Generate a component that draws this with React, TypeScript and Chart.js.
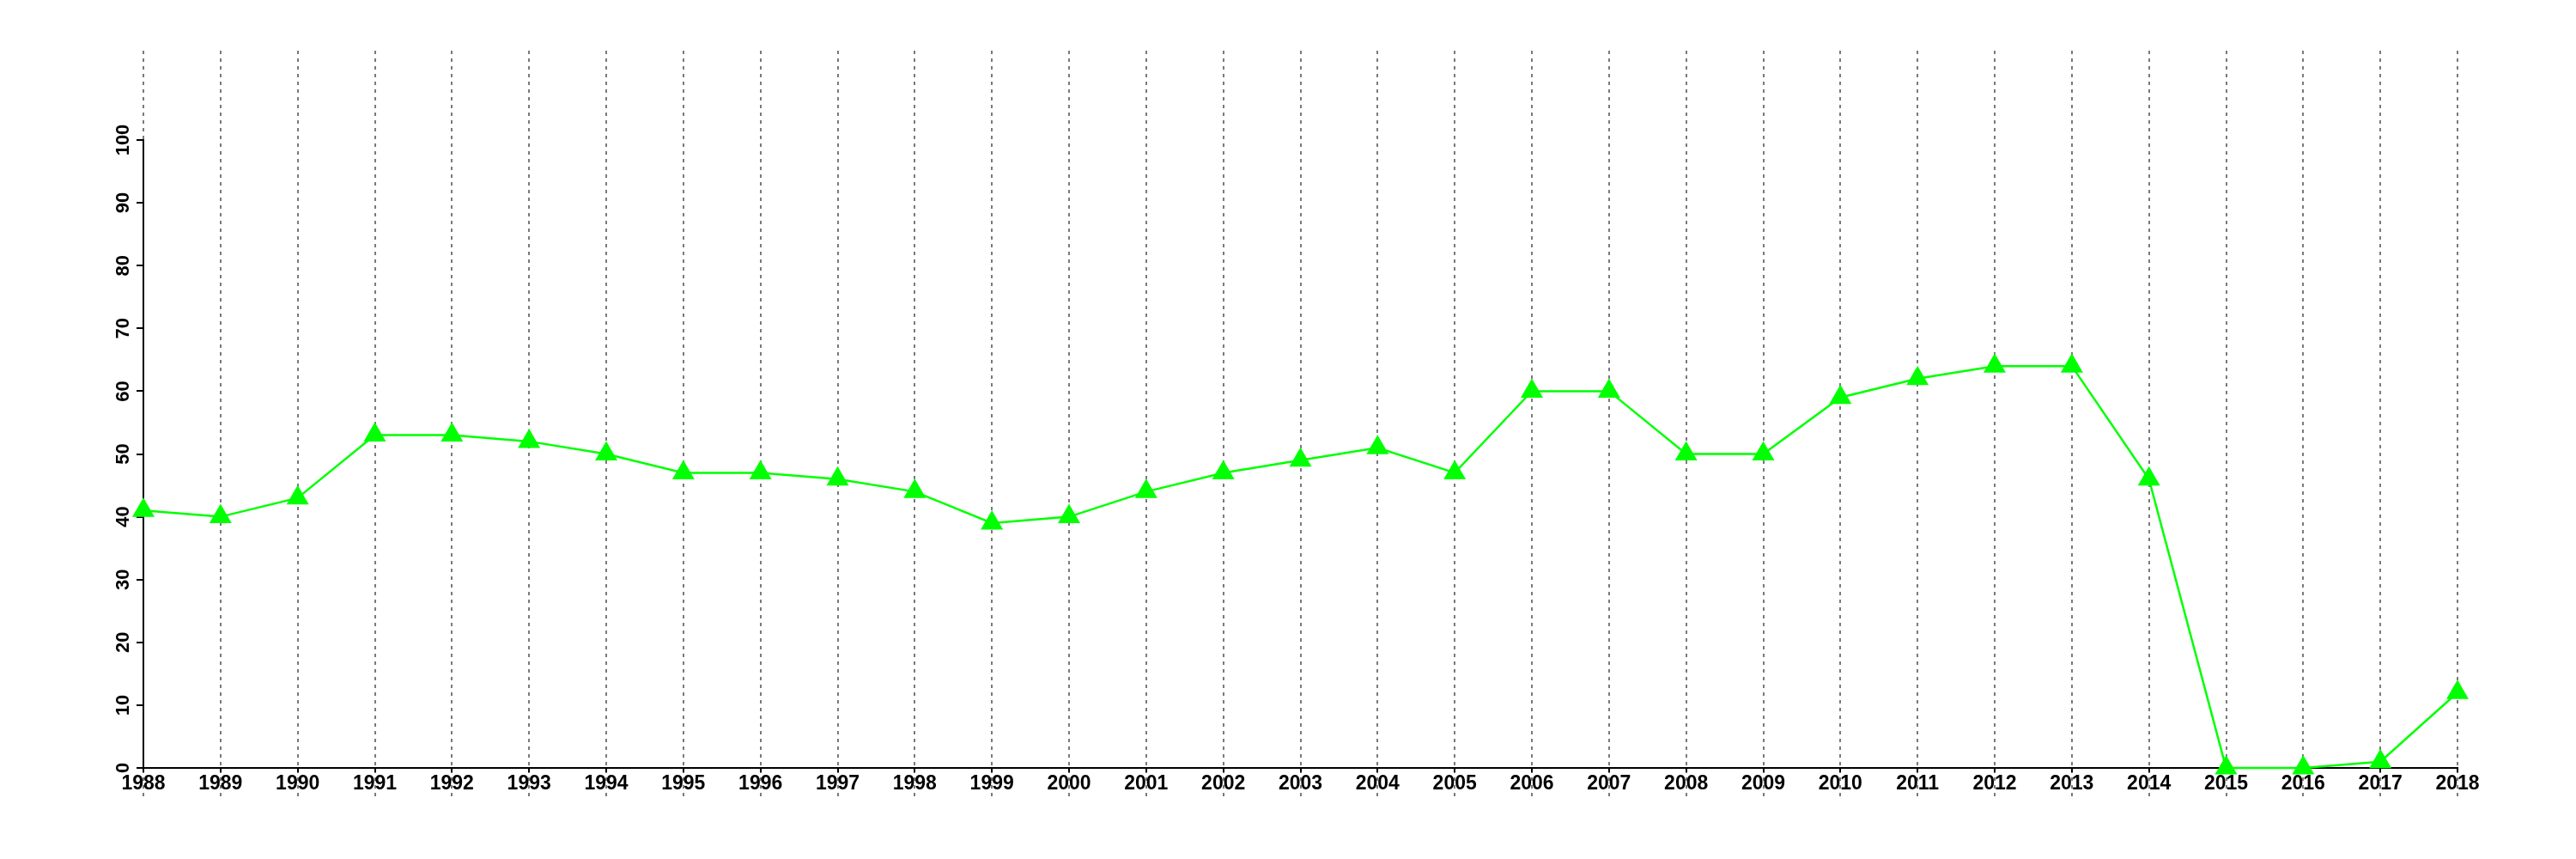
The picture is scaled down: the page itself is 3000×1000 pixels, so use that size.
import React, { useEffect, useRef } from "react";
import { Chart, registerables } from "chart.js";

Chart.register(...registerables);

const years = [
  "1988", "1989", "1990", "1991", "1992", "1993", "1994", "1995", "1996", "1997",
  "1998", "1999", "2000", "2001", "2002", "2003", "2004", "2005", "2006", "2007",
  "2008", "2009", "2010", "2011", "2012", "2013", "2014", "2015", "2016", "2017", "2018",
];
const values = [
  41, 40, 43, 53, 53, 52, 50, 47, 47, 46,
  44, 39, 40, 44, 47, 49, 51, 47, 60, 60,
  50, 50, 59, 62, 64, 64, 46, 0, 0, 1, 12,
];
const yMin = 0;
const yMax = 100;
const yStep = 10;

const verticalDots = {
  id: "verticalDots",
  beforeDraw(chart: any) {
    const { ctx, chartArea, scales } = chart;
    const x = scales.x;
    ctx.save();
    ctx.strokeStyle = "#7a7a7a";
    ctx.lineWidth = 2;
    ctx.setLineDash([4, 5]);
    for (let i = 0; i < x.ticks.length; i++) {
      const px = Math.round(x.getPixelForTick(i));
      ctx.beginPath();
      ctx.moveTo(px, chartArea.top - 104);
      ctx.lineTo(px, chartArea.bottom + 34);
      ctx.stroke();
    }
    ctx.restore();
  },
};

export default function App() {
  const ref = useRef<HTMLCanvasElement | null>(null);
  useEffect(() => {
    if (!ref.current) return;
    const chart = new Chart(ref.current, {
      type: "line",
      data: {
        labels: years,
        datasets: [
          {
            data: values,
            borderColor: "#00ff00",
            backgroundColor: "#00ff00",
            borderWidth: 2.5,
            pointStyle: "triangle",
            pointRadius: 15,
            pointBackgroundColor: "#00ff00",
            pointBorderWidth: 0,
            tension: 0,
            clip: false as any,
          },
        ],
      },
      options: {
        animation: false,
        responsive: false,
        devicePixelRatio: 1,
        events: [],
        layout: { padding: { top: 163, right: 138, left: 0, bottom: 0 } },
        plugins: { legend: { display: false }, tooltip: { enabled: false } },
        scales: {
          x: {
            type: "category",
            offset: false,
            afterFit: (s: any) => {
              s.height = 106;
            },
            grid: {
              display: true,
              drawOnChartArea: false,
              drawTicks: true,
              tickLength: 5,
              color: "#000",
              lineWidth: 2,
            },
            border: { display: true, color: "#000", width: 2 },
            ticks: {
              autoSkip: false,
              maxRotation: 0,
              minRotation: 0,
              padding: 0,
              color: "#000",
              font: { family: "Liberation Sans", size: 23, weight: "bold" },
            },
          },
          y: {
            min: yMin,
            max: yMax,
            afterFit: (s: any) => {
              s.width = 167;
            },
            grid: {
              display: true,
              drawOnChartArea: false,
              drawTicks: true,
              tickLength: 8,
              color: "#000",
              lineWidth: 2,
            },
            border: { display: true, color: "#000", width: 2 },
            ticks: {
              stepSize: yStep,
              minRotation: 90,
              maxRotation: 90,
              crossAlign: "center",
              padding: -3,
              color: "#000",
              font: { family: "Liberation Sans", size: 22, weight: "bold" },
            },
          },
        },
      },
      plugins: [verticalDots],
    });
    return () => chart.destroy();
  }, []);
  return (
    <div style={{ position: "fixed", left: 0, top: 0, width: 3000, height: 1000, background: "#fff" }}>
      <canvas ref={ref} width={3000} height={1000} style={{ width: 3000, height: 1000, display: "block" }} />
    </div>
  );
}
